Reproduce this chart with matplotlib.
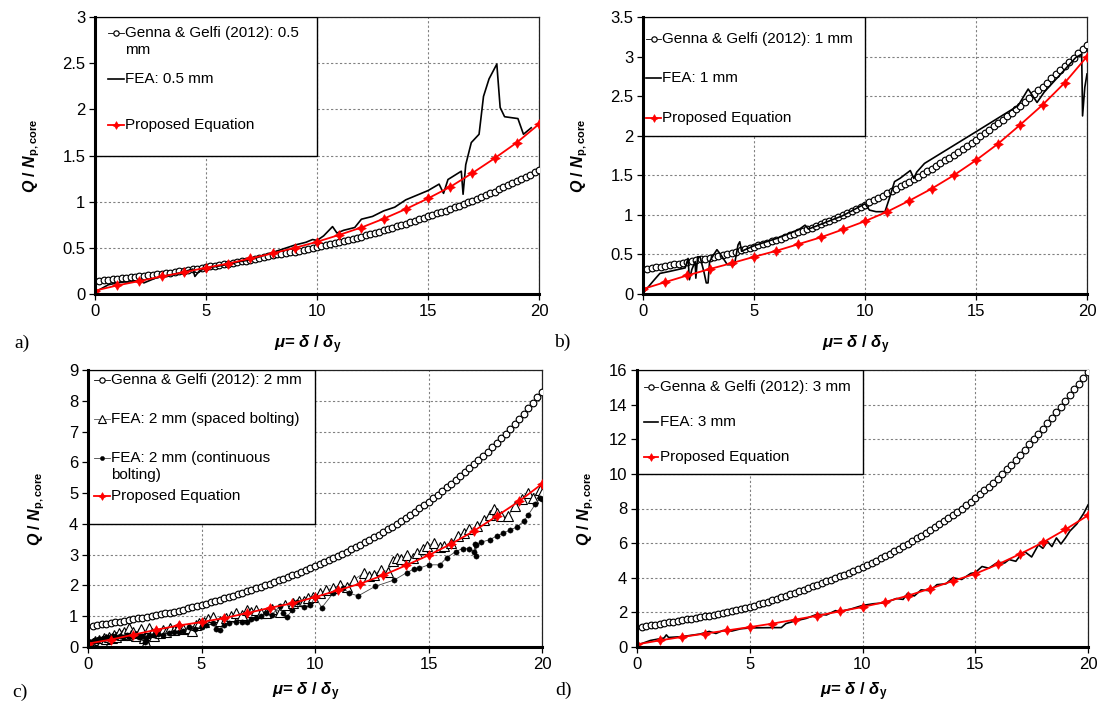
"""
Four-panel comparison: Q / N_p,core vs ductility mu for 0.5, 1, 2 and 3 mm.
Genna & Gelfi (2012), FEA results and the proposed equation.
"""
import matplotlib
matplotlib.use("Agg")
import matplotlib.pyplot as plt
import matplotlib.patches as mpatches
import numpy as np

plt.rcParams["font.family"] = "Liberation Sans"
plt.rcParams["mathtext.fontset"] = "custom"
plt.rcParams["mathtext.rm"] = "Liberation Sans"
plt.rcParams["mathtext.it"] = "Liberation Sans:italic"
plt.rcParams["mathtext.bf"] = "Liberation Sans:bold"
plt.rcParams["mathtext.bfit"] = "Liberation Sans:italic:bold"

# ---------------------------------------------------------------- data
MU_GENNA = np.arange(1, 101) * 0.2          # sampling of the Genna & Gelfi curves
MU_EQ = [0, 1, 2, 3, 4, 5, 6, 7, 8, 9, 10, 11, 12, 13, 14, 15, 16, 17, 18, 19, 20]

GENNA_05 = [
    0.145, 0.150, 0.155, 0.160, 0.165, 0.170, 0.175, 0.180, 0.185, 0.190,
    0.196, 0.202, 0.208, 0.214, 0.220, 0.226, 0.232, 0.238, 0.244, 0.250,
    0.258, 0.266, 0.274, 0.282, 0.290, 0.298, 0.306, 0.314, 0.322, 0.330,
    0.338, 0.346, 0.354, 0.362, 0.370, 0.380, 0.390, 0.400, 0.410, 0.420,
    0.428, 0.436, 0.444, 0.452, 0.460, 0.470, 0.480, 0.490, 0.500, 0.510,
    0.521, 0.532, 0.543, 0.554, 0.565, 0.576, 0.587, 0.598, 0.609, 0.620,
    0.634, 0.648, 0.662, 0.676, 0.690, 0.704, 0.718, 0.732, 0.746, 0.760,
    0.776, 0.792, 0.808, 0.824, 0.840, 0.856, 0.872, 0.888, 0.904, 0.920,
    0.938, 0.956, 0.974, 0.992, 1.010, 1.030, 1.050, 1.070, 1.090, 1.110,
    1.132, 1.154, 1.176, 1.198, 1.220, 1.244, 1.268, 1.292, 1.316, 1.340,
]
GENNA_1 = [
    0.319, 0.328, 0.337, 0.346, 0.355, 0.364, 0.373, 0.382, 0.391, 0.400,
    0.412, 0.424, 0.436, 0.448, 0.460, 0.472, 0.484, 0.496, 0.508, 0.520,
    0.536, 0.552, 0.568, 0.584, 0.600, 0.616, 0.632, 0.648, 0.664, 0.680,
    0.700, 0.720, 0.740, 0.760, 0.780, 0.800, 0.820, 0.840, 0.860, 0.880,
    0.904, 0.928, 0.952, 0.976, 1.000, 1.026, 1.052, 1.078, 1.104, 1.130,
    1.158, 1.186, 1.214, 1.242, 1.270, 1.300, 1.330, 1.360, 1.390, 1.420,
    1.452, 1.484, 1.516, 1.548, 1.580, 1.616, 1.652, 1.688, 1.724, 1.760,
    1.798, 1.836, 1.874, 1.912, 1.950, 1.992, 2.034, 2.076, 2.118, 2.160,
    2.204, 2.248, 2.292, 2.336, 2.380, 2.428, 2.476, 2.524, 2.572, 2.620,
    2.672, 2.724, 2.776, 2.828, 2.880, 2.934, 2.988, 3.042, 3.096, 3.150,
]
GENNA_2 = [
    0.684, 0.708, 0.732, 0.756, 0.780, 0.804, 0.828, 0.852, 0.876, 0.900,
    0.926, 0.952, 0.978, 1.004, 1.030, 1.060, 1.090, 1.120, 1.150, 1.180,
    1.218, 1.256, 1.294, 1.332, 1.370, 1.412, 1.454, 1.496, 1.538, 1.580,
    1.626, 1.672, 1.718, 1.764, 1.810, 1.860, 1.910, 1.960, 2.010, 2.060,
    2.114, 2.168, 2.222, 2.276, 2.330, 2.388, 2.446, 2.504, 2.562, 2.620,
    2.686, 2.752, 2.818, 2.884, 2.950, 3.024, 3.098, 3.172, 3.246, 3.320,
    3.402, 3.484, 3.566, 3.648, 3.730, 3.820, 3.910, 4.000, 4.090, 4.180,
    4.288, 4.396, 4.504, 4.612, 4.720, 4.836, 4.952, 5.068, 5.184, 5.300,
    5.428, 5.556, 5.684, 5.812, 5.940, 6.076, 6.212, 6.348, 6.484, 6.620,
    6.776, 6.932, 7.088, 7.244, 7.400, 7.580, 7.760, 7.940, 8.120, 8.300,
]
GENNA_3 = [
    1.162, 1.204, 1.246, 1.288, 1.330, 1.374, 1.418, 1.462, 1.506, 1.550,
    1.594, 1.638, 1.682, 1.726, 1.770, 1.816, 1.862, 1.908, 1.954, 2.000,
    2.060, 2.120, 2.180, 2.240, 2.300, 2.380, 2.460, 2.540, 2.620, 2.700,
    2.784, 2.868, 2.952, 3.036, 3.120, 3.216, 3.312, 3.408, 3.504, 3.600,
    3.696, 3.792, 3.888, 3.984, 4.080, 4.184, 4.288, 4.392, 4.496, 4.600,
    4.730, 4.860, 4.990, 5.120, 5.250, 5.390, 5.530, 5.670, 5.810, 5.950,
    6.110, 6.270, 6.430, 6.590, 6.750, 6.920, 7.090, 7.260, 7.430, 7.600,
    7.800, 8.000, 8.200, 8.400, 8.600, 8.820, 9.040, 9.260, 9.480, 9.700,
    9.980, 10.26, 10.54, 10.82, 11.10, 11.40, 11.70, 12.00, 12.30, 12.60,
    12.92, 13.24, 13.56, 13.88, 14.20, 14.54, 14.88, 15.22, 15.56, 15.90,
]

EQ_05 = [0.036, 0.093, 0.14, 0.19, 0.235, 0.285, 0.33, 0.385, 0.44, 0.50, 0.565,
         0.64, 0.72, 0.815, 0.92, 1.035, 1.16, 1.31, 1.47, 1.64, 1.84]
EQ_1 = [0.063, 0.15, 0.235, 0.315, 0.39, 0.47, 0.545, 0.63, 0.715, 0.815, 0.92,
        1.04, 1.18, 1.33, 1.50, 1.69, 1.90, 2.14, 2.39, 2.67, 3.0]
EQ_2 = [0.11, 0.24, 0.40, 0.56, 0.70, 0.81, 0.94, 1.10, 1.27, 1.42, 1.62,
        1.84, 2.06, 2.33, 2.65, 2.98, 3.35, 3.77, 4.25, 4.74, 5.30]
EQ_3 = [0.15, 0.38, 0.58, 0.77, 0.96, 1.15, 1.35, 1.58, 1.81, 2.06, 2.31,
        2.60, 2.96, 3.37, 3.81, 4.23, 4.77, 5.38, 6.04, 6.79, 7.60]

FEA_05_MU = [0, 0.3, 0.6, 1.0, 1.3, 1.6, 2.0, 2.2, 2.4, 2.7, 3.0, 3.5, 4.0, 4.4, 4.5,
             4.7, 5.0, 5.5, 6.0, 6.5, 7.0, 7.5, 8.0, 8.5, 9.0, 9.5, 9.8, 10.0, 10.3,
             10.7, 10.9, 11.2, 11.7, 12.0, 12.5, 13.0, 13.5, 14.0, 14.5, 15.0, 15.5,
             15.7, 15.9, 16.5, 16.58, 16.7, 16.95, 17.3, 17.5, 17.75, 18.1, 18.25,
             18.45, 19.05, 19.3, 19.65]
FEA_05_Q = [0.02, 0.06, 0.10, 0.12, 0.13, 0.13, 0.15, 0.12, 0.14, 0.17, 0.19, 0.21,
            0.24, 0.27, 0.19, 0.25, 0.28, 0.30, 0.32, 0.35, 0.37, 0.41, 0.45, 0.49,
            0.53, 0.56, 0.59, 0.58, 0.63, 0.73, 0.66, 0.69, 0.72, 0.81, 0.84, 0.90,
            0.94, 1.02, 1.07, 1.12, 1.19, 1.09, 1.24, 1.33, 1.08, 1.40, 1.64, 1.73,
            2.14, 2.33, 2.49, 2.02, 1.92, 1.90, 1.73, 1.80]

FEA_1_MU = [0, 0.48, 0.76, 1.19, 1.9, 2.03, 2.09, 2.2, 2.35, 2.38, 2.46, 2.57, 2.66,
            2.74, 2.85, 2.93, 3.0, 3.17, 3.33, 3.52, 3.8, 4.12, 4.28, 4.36, 4.44, 5.0,
            6.0, 7.0, 7.3, 7.45, 8.0, 9.0, 10.0, 10.2, 10.5, 10.9, 11.1, 11.33, 11.57,
            12.04, 12.2, 12.33, 12.68, 15.0, 16.9, 17.35, 17.75, 18.07, 19.5, 19.76,
            19.8, 19.9, 20.0]
FEA_1_Q = [0.01, 0.17, 0.26, 0.285, 0.33, 0.45, 0.18, 0.31, 0.41, 0.20, 0.47, 0.47,
           0.37, 0.285, 0.14, 0.14, 0.41, 0.49, 0.56, 0.49, 0.37, 0.37, 0.62, 0.66,
           0.54, 0.61, 0.70, 0.81, 0.87, 0.82, 0.88, 0.99, 1.14, 1.06, 1.04, 1.04,
           1.21, 1.42, 1.46, 1.56, 1.46, 1.54, 1.65, 2.05, 2.38, 2.59, 2.42, 2.55,
           2.99, 3.03, 2.25, 2.61, 2.78]

FEA_2S_MU = [0.0, 0.05, 0.1, 0.15, 0.2, 0.3, 0.4, 0.5, 0.6, 0.7, 0.8, 0.93, 1.05, 1.15,
             1.25, 1.37, 1.5, 1.6, 1.7, 1.8, 1.9, 2.0, 2.1, 2.25, 2.35, 2.45, 2.55, 2.6,
             2.7, 2.8, 2.9, 3.0, 3.15, 3.3, 3.45, 3.6, 3.8, 4.0, 4.2, 4.47, 4.6, 4.75,
             4.9, 5.1, 5.3, 5.5, 5.8, 6.1, 6.3, 6.5, 6.8, 7.0, 7.2, 7.4, 7.6, 7.85, 8.1,
             8.45, 8.7, 9.05, 9.3, 9.5, 9.7, 9.9, 10.2, 10.5, 10.8, 11.1, 11.4, 11.7,
             12.15, 12.4, 12.6, 12.9, 13.2, 13.45, 13.6, 13.8, 14.05, 14.3, 14.5, 14.75,
             14.95, 15.25, 15.5, 15.7, 16.0, 16.3, 16.55, 16.8, 17.15, 17.45, 17.7,
             17.9, 18.0, 18.2, 18.5, 18.8, 19.1, 19.4, 19.6, 19.9, 20.0]
FEA_2S_Q = [0.0, 0.05, 0.10, 0.03, 0.12, 0.18, 0.15, 0.23, 0.20, 0.28, 0.25, 0.34, 0.30,
            0.38, 0.33, 0.45, 0.38, 0.50, 0.42, 0.61, 0.40, 0.50, 0.35, 0.45, 0.60, 0.30,
            0.12, 0.40, 0.61, 0.45, 0.35, 0.50, 0.45, 0.55, 0.50, 0.61, 0.55, 0.68, 0.60,
            0.61, 0.52, 0.70, 0.77, 0.80, 0.90, 0.97, 0.85, 0.93, 1.00, 1.10, 1.05, 1.21,
            1.15, 1.21, 1.10, 1.12, 1.25, 1.15, 1.35, 1.42, 1.50, 1.48, 1.60, 1.64, 1.75,
            1.85, 1.91, 2.02, 1.95, 2.18, 2.40, 2.30, 2.35, 2.51, 2.45, 2.78, 2.90, 2.85,
            3.00, 2.90, 3.05, 3.20, 3.27, 3.38, 3.25, 3.27, 3.38, 3.60, 3.70, 3.82, 3.92,
            4.14, 4.30, 4.50, 4.36, 4.25, 4.25, 4.58, 4.80, 5.00, 4.85, 5.10, 5.00]

FEA_2C_MU = [0.0, 0.05, 0.1, 0.2, 0.3, 0.4, 0.5, 0.6, 0.7, 0.8, 0.9, 1.0, 1.1, 1.25, 1.4,
             1.55, 1.7, 1.8, 1.95, 2.1, 2.25, 2.4, 2.5, 2.55, 2.7, 2.9, 3.1, 3.3, 3.58,
             3.8, 4.0, 4.2, 4.47, 4.7, 5.0, 5.2, 5.5, 5.65, 5.8, 6.0, 6.2, 6.5, 6.8, 7.0,
             7.2, 7.4, 7.6, 7.86, 8.1, 8.45, 8.6, 8.75, 9.0, 9.2, 9.5, 9.8, 10.0, 10.3,
             10.8, 11.25, 11.5, 11.9, 12.65, 13.5, 14.05, 14.35, 14.6, 15.0, 15.5, 15.8,
             16.2, 16.5, 16.8, 17.0, 17.05, 17.08, 17.1, 17.3, 17.7, 18.0, 18.3, 18.6,
             18.9, 19.2, 19.4, 19.7, 19.9, 20.0]
FEA_2C_Q = [0.0, 0.05, 0.12, 0.18, 0.22, 0.20, 0.27, 0.25, 0.30, 0.28, 0.33, 0.30, 0.35,
            0.32, 0.36, 0.33, 0.38, 0.34, 0.36, 0.38, 0.33, 0.37, 0.17, 0.30, 0.40, 0.38,
            0.43, 0.40, 0.45, 0.48, 0.50, 0.52, 0.66, 0.60, 0.65, 0.70, 0.77, 0.60, 0.55,
            0.72, 0.78, 0.80, 0.82, 0.80, 0.90, 0.93, 1.00, 1.10, 1.05, 1.32, 1.10, 0.97,
            1.20, 1.45, 1.30, 1.35, 1.64, 1.28, 1.75, 1.91, 1.75, 1.66, 1.97, 2.18, 2.42,
            2.53, 2.56, 2.67, 2.67, 2.90, 3.10, 3.20, 3.20, 3.10, 3.35, 2.95, 3.30, 3.40,
            3.49, 3.60, 3.70, 3.80, 3.90, 4.09, 4.30, 4.63, 4.85, 4.80]

FEA_3_MU = [0, 0.6, 1.2, 1.3, 1.4, 2.0, 2.8, 3.2, 3.5, 3.8, 4.2, 4.6, 5.0, 6.0, 6.4, 6.6,
            7.0, 7.5, 8.0, 8.4, 8.8, 9.0, 9.5, 10.0, 10.5, 11.0, 11.5, 11.8, 12.0, 12.3,
            12.6, 13.0, 13.3, 13.7, 14.0, 14.4, 14.8, 15.0, 15.3, 15.6, 16.0, 16.3, 16.5,
            16.8, 17.0, 17.2, 17.5, 17.8, 18.0, 18.2, 18.4, 18.6, 18.8, 19.0, 19.2, 19.5,
            19.8, 20.0]
FEA_3_Q = [0.10, 0.38, 0.52, 0.70, 0.55, 0.60, 0.75, 0.90, 0.78, 0.95, 0.92, 1.05, 1.10,
           1.12, 1.12, 1.35, 1.50, 1.65, 1.90, 1.85, 2.10, 2.05, 2.20, 2.40, 2.50, 2.55,
           2.80, 2.75, 3.10, 2.95, 3.30, 3.25, 3.60, 3.65, 4.00, 3.90, 4.25, 4.30, 4.65,
           4.55, 4.90, 4.85, 5.05, 4.95, 5.30, 5.50, 5.20, 5.90, 5.70, 6.10, 5.80, 6.30,
           5.95, 6.30, 6.70, 7.10, 7.70, 8.20]

# ---------------------------------------------------------------- styling
GRID_KW = dict(color="#808080", linestyle=(0, (2, 2)), linewidth=0.8)
GENNA_KW = dict(color="black", lw=0.6, marker="o", ms=4.8, mfc="white", mec="black", mew=0.85)
EQ_KW = dict(color="red", lw=1.3, marker=(4, 1, 0), ms=7, mfc="red", mec="red", mew=0.5)
FEA_KW = dict(color="black", lw=1.2)
TRI_KW = dict(color="#555555", lw=0.6, marker="^", ms=7.5, mfc="white", mec="black", mew=0.8)
DOT_KW = dict(color="#444444", lw=0.6, marker="o", ms=3.8, mfc="black", mec="black", mew=0.3)

W, H = 1099, 704
AX_H_PX = 277


def style_axes(ax, ymax, ystep):
    ax.set_xlim(0, 20)
    ax.set_ylim(0, ymax)
    ax.set_xticks([0, 5, 10, 15, 20])
    ax.set_yticks(np.arange(0, ymax + ystep / 2, ystep))
    ax.yaxis.set_major_formatter(plt.FuncFormatter(lambda v, p: f"{v:g}"))
    ax.grid(True, zorder=0, **GRID_KW)
    ax.set_axisbelow(True)
    for side in ("left", "bottom"):
        ax.spines[side].set_linewidth(2.2)
        ax.spines[side].set_zorder(8)
    for side in ("top", "right"):
        ax.spines[side].set_linewidth(0.9)
        ax.spines[side].set_color("#222222")
    ax.tick_params(direction="out", length=4, width=0.9, labelsize=12, pad=3)
    ax.set_ylabel(r"$\mathbfit{Q}\ \mathbf{/}\ \mathbfit{N}_{\mathbf{p,core}}$", fontsize=11.5)
    ax.set_xlabel(r"$\mathbfit{\mu}$= $\mathbfit{\delta}$ / $\mathbfit{\delta}_{\mathbf{y}}$",
                  fontsize=12, fontweight="bold")


def draw_legend(ax, bottom_frac, entries, handle_px, text_px):
    """Excel-like legend box in the upper-left half of the axes."""
    box = mpatches.Rectangle((0, bottom_frac), 0.5, 1 - bottom_frac, transform=ax.transAxes,
                             facecolor="white", edgecolor="black", lw=1.0, zorder=5)
    ax.add_patch(box)
    width_px = ax.get_position().width * W
    x0 = handle_px[0] / width_px
    x1 = handle_px[1] / width_px
    xt = text_px / width_px
    marker_keys = ("marker", "ms", "mfc", "mec", "mew")
    for y_px, kw, lines in entries:
        y = 1 - y_px / AX_H_PX
        ax.plot([x0, x1], [y, y], transform=ax.transAxes, clip_on=False, zorder=6,
                **{k: v for k, v in kw.items() if k not in marker_keys})
        if "marker" in kw:
            ax.plot([(x0 + x1) / 2], [y], transform=ax.transAxes, clip_on=False, zorder=7,
                    linestyle="none", marker=kw["marker"], ms=kw["ms"] * 0.8, mfc=kw["mfc"],
                    mec=kw["mec"], mew=kw["mew"])
        for i, txt in enumerate(lines):
            ax.text(xt, y - i * 17 / AX_H_PX, txt, transform=ax.transAxes, fontsize=11,
                    va="center", ha="left", zorder=7)


fig = plt.figure(figsize=(W / 100, H / 100), dpi=100)
ax_a = fig.add_axes([95 / W, 1 - 294 / H, 444 / W, AX_H_PX / H])
ax_b = fig.add_axes([643 / W, 1 - 294 / H, 444 / W, AX_H_PX / H])
ax_c = fig.add_axes([88 / W, 1 - 647 / H, 454 / W, AX_H_PX / H])
ax_d = fig.add_axes([637 / W, 1 - 647 / H, 451 / W, AX_H_PX / H])

# a) 0.5 mm
ax_a.plot(MU_GENNA, GENNA_05, zorder=3, **GENNA_KW)
ax_a.plot(FEA_05_MU, FEA_05_Q, zorder=3, **FEA_KW)
ax_a.plot(MU_EQ, EQ_05, zorder=4, **EQ_KW)
style_axes(ax_a, 3, 0.5)
draw_legend(ax_a, 0.5, [
    (16, GENNA_KW, ["Genna & Gelfi (2012): 0.5", "mm"]),
    (62, FEA_KW, ["FEA: 0.5 mm"]),
    (108, EQ_KW, ["Proposed Equation"]),
], (13, 29), 30)

# b) 1 mm
ax_b.plot(MU_GENNA, GENNA_1, zorder=3, **GENNA_KW)
ax_b.plot(FEA_1_MU, FEA_1_Q, zorder=3, **FEA_KW)
ax_b.plot(MU_EQ, EQ_1, zorder=4, **EQ_KW)
style_axes(ax_b, 3.5, 0.5)
draw_legend(ax_b, 2 / 3.5, [
    (22, GENNA_KW, ["Genna & Gelfi (2012): 1 mm"]),
    (61, FEA_KW, ["FEA: 1 mm"]),
    (101, EQ_KW, ["Proposed Equation"]),
], (3, 18), 19)

# c) 2 mm
ax_c.plot(MU_GENNA, GENNA_2, zorder=3, **GENNA_KW)
ax_c.plot(FEA_2S_MU, FEA_2S_Q, zorder=3, **TRI_KW)
ax_c.plot(FEA_2C_MU, FEA_2C_Q, zorder=3, **DOT_KW)
ax_c.plot(MU_EQ, EQ_2, zorder=4, **EQ_KW)
style_axes(ax_c, 9, 1)
draw_legend(ax_c, 4 / 9, [
    (10, GENNA_KW, ["Genna & Gelfi (2012): 2 mm"]),
    (49, TRI_KW, ["FEA: 2 mm (spaced bolting)"]),
    (88, DOT_KW, ["FEA: 2 mm (continuous", "bolting)"]),
    (126, EQ_KW, ["Proposed Equation"]),
], (6, 22), 23)

# d) 3 mm
ax_d.plot(MU_GENNA, GENNA_3, zorder=3, **GENNA_KW)
ax_d.plot(FEA_3_MU, FEA_3_Q, zorder=3, **FEA_KW)
ax_d.plot(MU_EQ, EQ_3, zorder=4, **EQ_KW)
style_axes(ax_d, 16, 2)
draw_legend(ax_d, 10 / 16, [
    (17, GENNA_KW, ["Genna & Gelfi (2012): 3 mm"]),
    (52, FEA_KW, ["FEA: 3 mm"]),
    (87, EQ_KW, ["Proposed Equation"]),
], (7, 21), 23)

# label positions
ax_a.yaxis.set_label_coords(-53 / 444, 0.5)
ax_b.yaxis.set_label_coords(-53 / 444, 0.5)
ax_c.yaxis.set_label_coords(-41 / 454, 0.5)
ax_d.yaxis.set_label_coords(-41 / 451, 0.5)
for ax in (ax_a, ax_b):
    ax.xaxis.set_label_coords(0.48, -39 / AX_H_PX)
for ax in (ax_c, ax_d):
    ax.xaxis.set_label_coords(0.48, -33 / AX_H_PX)

for lab, xp, yp in (("a)", 22, 343), ("b)", 562, 342), ("c)", 20, 692), ("d)", 563, 690)):
    fig.text(xp / W, 1 - yp / H, lab, fontsize=14, family="Liberation Serif",
             ha="center", va="center")

fig.savefig("out.png", dpi=100)
